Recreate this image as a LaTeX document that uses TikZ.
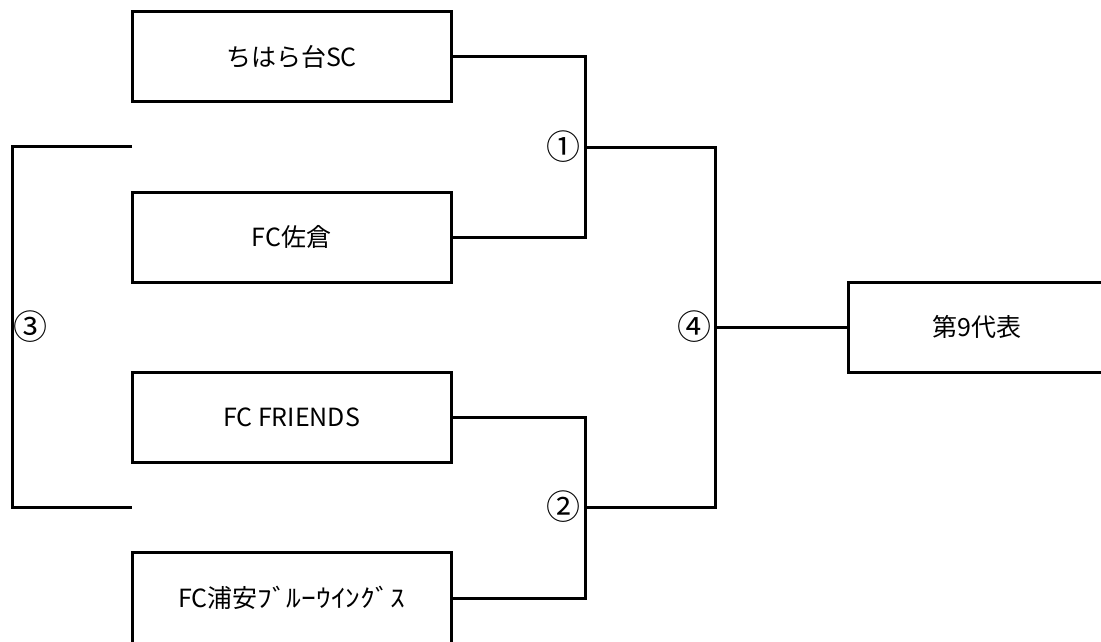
\documentclass[tikz,border=0pt]{standalone}
\usepackage{fontspec}
\newfontfamily\jp{Noto Sans CJK JP}
\begin{document}
\begin{tikzpicture}[x=1pt,y=-1pt,
  team/.style={draw=black,line width=3pt,minimum width=319pt,minimum height=90pt,inner sep=0pt,font=\jp\fontsize{25}{28}\selectfont},
  conn/.style={draw=black,line width=3pt},
  lbl/.style={inner sep=0pt,font=\jp\fontsize{34}{36}\selectfont}]
\useasboundingbox (0,0) rectangle (1101,641);
\clip (0,0) rectangle (1101,641);
\node[team] (t1) at (291.5,56.5) {ちはら台SC};
\node[team] (t2) at (291.5,237) {FC佐倉};
\node[team] (t3) at (291.5,417) {FC FRIENDS};
\node[team,minimum height=92pt] (t4) at (291.5,598) {FC浦安\scalebox{1.18}[1]{ﾌﾞﾙｰｳｲﾝｸﾞｽ}};
\node[team,minimum width=322pt,minimum height=90pt] (fin) at (1009,327) {};
\node[inner sep=0pt,font=\jp\fontsize{25}{28}\selectfont] (fintext) at (977,327) {第9代表};
\coordinate (j1) at (585,147);
\coordinate (j2) at (585,507);
\coordinate (j4) at (715,327);
\draw[conn] (t1.east) -| (j1) |- (t2.east);
\draw[conn] (t3.east) -| (j2) |- (t4.east);
\draw[conn] (j1) -| (j4) |- (j2);
\draw[conn] (j4) -- (fin.west);
\coordinate (a3) at (132,146.5);
\coordinate (b3) at (132,507);
\coordinate (m3) at (12,327);
\draw[conn] (a3) -| (m3) |- (b3);
\node[lbl,anchor=east] (l1) at (581,147) {①};
\node[lbl,anchor=east] (l2) at (581,507) {②};
\node[lbl,anchor=west] (l3) at (13,327) {③};
\node[lbl,anchor=east] (l4) at (712,327) {④};
\end{tikzpicture}
\end{document}
